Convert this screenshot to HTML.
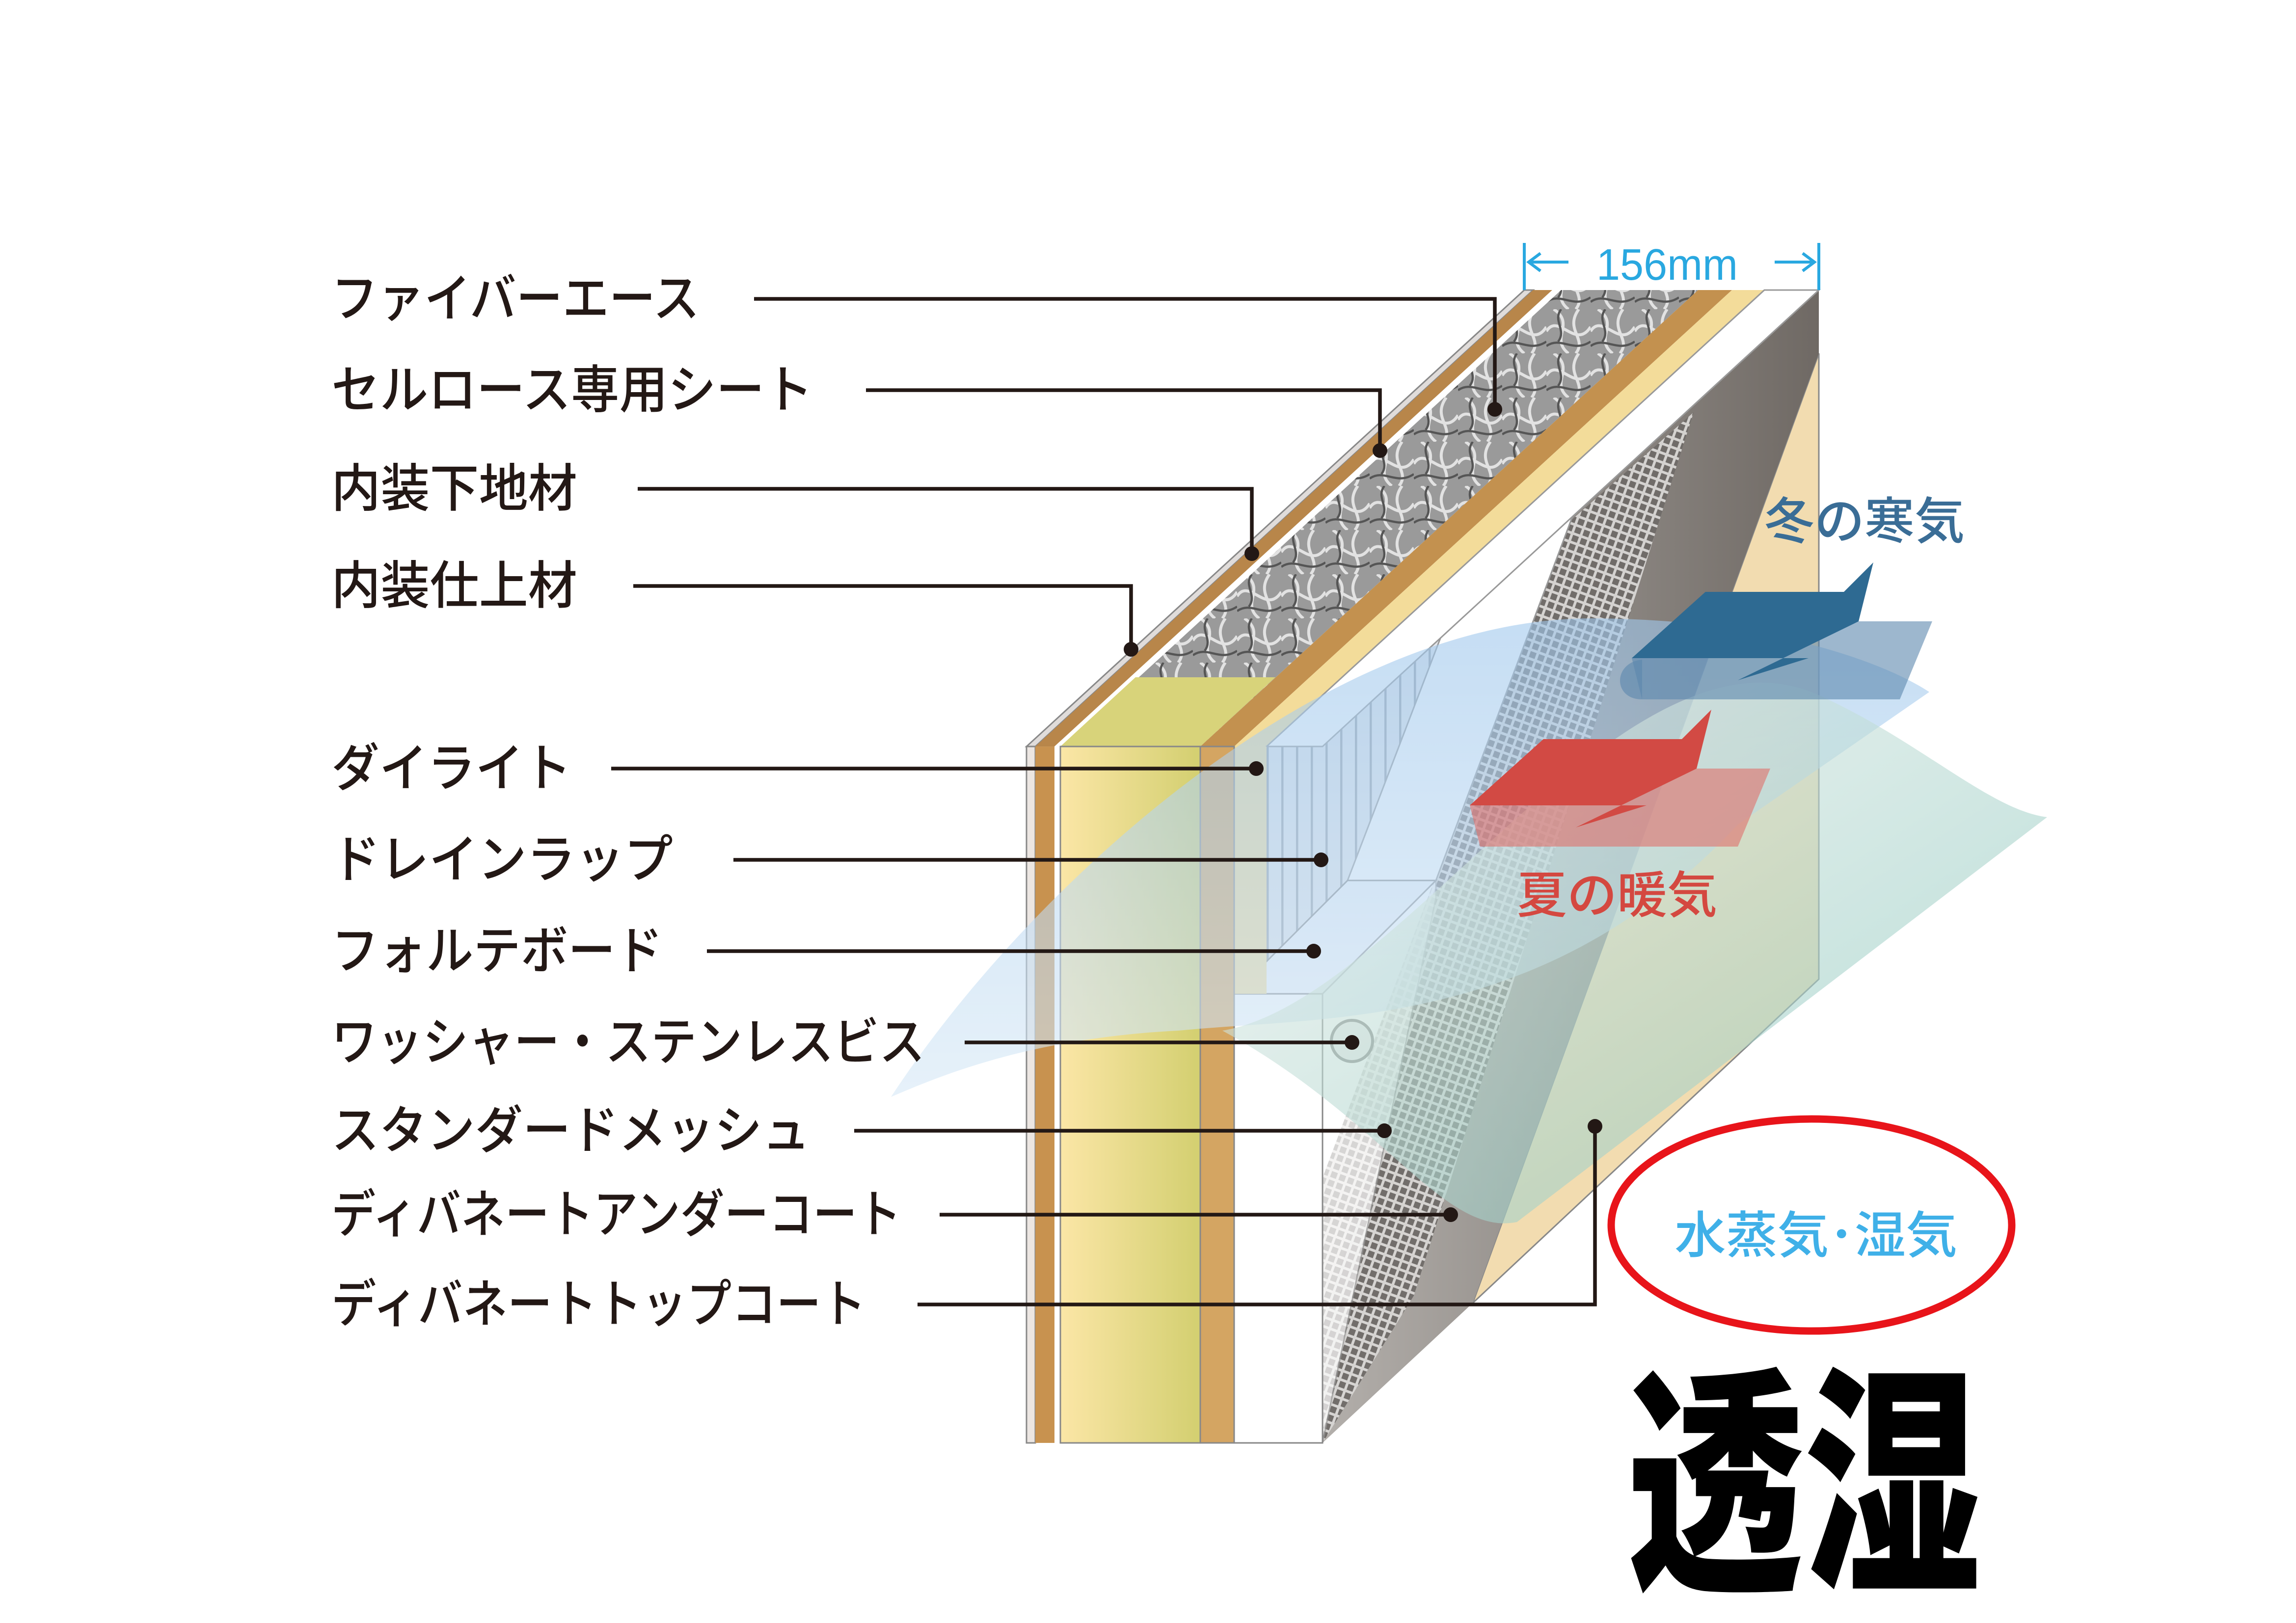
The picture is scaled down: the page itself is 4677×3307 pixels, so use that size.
<!DOCTYPE html>
<html><head><meta charset="utf-8">
<style>html,body{margin:0;padding:0;background:#fff}svg{display:block}</style></head>
<body>
<svg width="4677" height="3307" viewBox="0 0 1559 1102.3" xmlns="http://www.w3.org/2000/svg">
<defs>
<pattern id="mesh" width="6" height="6" patternUnits="userSpaceOnUse" patternTransform="rotate(20)">
<rect width="6" height="6" fill="#d8d6d4"/><rect width="4.2" height="4.2" fill="#6f6b68"/></pattern>
<pattern id="rib" width="10" height="10" patternUnits="userSpaceOnUse">
<rect width="10" height="10" fill="#e4e6ea"/><rect width="1.5" height="10" fill="#9aa0a8"/></pattern>
<pattern id="fiber" width="30" height="30" patternUnits="userSpaceOnUse">
<rect width="30" height="30" fill="#9a9a9a"/>
<path d="M0,15 C8,2 20,28 30,12 M5,0 C20,10 2,20 15,30 M22,0 C12,14 28,20 20,30" stroke="#e2e2e2" stroke-width="2" fill="none"/>
<path d="M0,25 C10,18 18,30 30,22 M10,0 C4,8 14,14 8,22" stroke="#555" stroke-width="1.5" fill="none"/></pattern>
<linearGradient id="stud" x1="0" x2="1"><stop offset="0" stop-color="#fbe6a6"/><stop offset="1" stop-color="#d3cf70"/></linearGradient>
<linearGradient id="gray" x1="0" x2="1"><stop offset="0" stop-color="#b3afab"/><stop offset="1" stop-color="#6f6964"/></linearGradient>
<linearGradient id="bl" x1="0" y1="0" x2="0" y2="1"><stop offset="0" stop-color="#9fc7ec"/><stop offset="1" stop-color="#d6e8f6"/></linearGradient>
<linearGradient id="gr" x1="0" y1="0" x2="1" y2="1"><stop offset="0" stop-color="#f2f2ee"/><stop offset="1" stop-color="#7fc2b8"/></linearGradient>
</defs>

<polygon points="1235,240 1235,665 1000,885" fill="#f2dcb0" stroke="#888" stroke-width="1"/>
<polygon points="1060,355 1235,197 1235,240 1000,885 898,980 898,900" fill="url(#gray)"/>
<polygon points="898,980 898,800 1065,355 1150,280 960,880" fill="url(#mesh)" opacity="0.95"/>
<polygon points="838,660 838,520 1010,350 930,590 840,675" fill="url(#rib)" stroke="#999"/>
<polygon points="1010,350 1068,350 975,598 915,598" fill="#fff" stroke="#999"/>
<polygon points="838,675 898,675 975,598 915,598" fill="#f4f6fa" stroke="#888"/>
<polygon points="898,675 975,598 975,610 898,980" fill="#fff" stroke="#999" opacity="0.7"/>
<rect x="838" y="675" width="60" height="305" fill="#fff" stroke="#888"/>
<circle cx="918" cy="707" r="14" fill="#eee" stroke="#888" stroke-width="2"/>

<polygon points="697,507 1035,197 1041,197 703,507" fill="#e0dcda" stroke="#888" stroke-width="1"/>
<polygon points="703,507 1041,197 1054,197 716,507" fill="#b8864a"/>
<polygon points="716,507 1054,197 1060,197 722,507" fill="#fff"/>
<polygon points="722,507 1060,197 1153,197 815,507" fill="url(#fiber)"/>
<polygon points="815,507 1153,197 1176,197 838,507" fill="#c3914f"/>
<polygon points="838,507 1176,197 1198,197 860,507" fill="#f3dc9a"/>
<polygon points="860,507 1198,197 1235,197 898,507" fill="#fff" stroke="#999" stroke-width="1"/>
<polygon points="720,507 815,507 866,460 771,460" fill="#d8d37a"/>
<polygon points="838,507 860,507 860,675 838,675" fill="#f3dc9a"/>

<rect x="697" y="507" width="6" height="473" fill="#ece6e2" stroke="#888" stroke-width="1"/>
<rect x="703" y="507" width="13" height="473" fill="#c8924f"/>
<rect x="716" y="507" width="4" height="473" fill="#fff"/>
<rect x="720" y="507" width="95" height="473" fill="url(#stud)" stroke="#888" stroke-width="1"/>
<rect x="815" y="507" width="23" height="473" fill="#d4a562" stroke="#888" stroke-width="1"/>

<path d="M605,745 C700,600 900,420 1080,420 C1200,420 1280,450 1310,470 L1180,560 C1050,700 900,690 800,700 C700,705 640,730 605,745 Z" fill="url(#bl)" opacity="0.6"/>
<path d="M830,700 C950,680 1100,420 1230,470 C1300,500 1350,550 1390,555 L1030,830 C980,840 940,760 830,700 Z" fill="url(#gr)" opacity="0.6"/>

<polygon points="1115,475 1290,475 1312,422 1240,422 1180,462 1228,447 1108,447" fill="#5b87ad" opacity="0.6"/>
<path d="M1115,448 C1095,450 1095,475 1115,475" fill="#5b87ad" opacity="0.6"/>
<polygon points="1108,447 1158,402 1252,402 1272,382 1262,422 1180,462 1228,447" fill="#2e6a92"/>
<polygon points="1005,575 1180,575 1202,522 1130,522 1070,562 1118,547 998,547" fill="#e0706a" opacity="0.6"/>
<polygon points="998,547 1048,502 1142,502 1162,482 1152,522 1070,562 1118,547" fill="#d24a44"/>

<g stroke="#29a8e0" stroke-width="2" fill="none">
<line x1="1035" y1="165" x2="1035" y2="197"/><line x1="1235" y1="165" x2="1235" y2="197"/>
<line x1="1038" y1="178" x2="1065" y2="178"/><line x1="1205" y1="178" x2="1232" y2="178"/>
<path d="M1046,172 L1038,178 L1046,184 M1224,172 L1232,178 L1224,184"/></g>
<text x="1084" y="190" font-family="Liberation Sans, sans-serif" font-size="30" fill="#29a8e0" textLength="96" lengthAdjust="spacingAndGlyphs">156mm</text>

<g stroke="#231815" stroke-width="2.5" fill="none">
<polyline points="512,203 1015,203 1015,278"/>
<polyline points="588,265 937,265 937,306"/>
<polyline points="433,332 850,332 850,376"/>
<polyline points="430,398 768,398 768,441"/>
<line x1="415" y1="522" x2="853" y2="522"/>
<line x1="498" y1="584" x2="897" y2="584"/>
<line x1="480" y1="646" x2="892" y2="646"/>
<line x1="655" y1="708" x2="918" y2="708"/>
<line x1="580" y1="768" x2="940" y2="768"/>
<line x1="638" y1="825" x2="985" y2="825"/>
<polyline points="623,886 1083,886 1083,765"/>
</g>
<g fill="#231815">
<circle cx="1015" cy="278" r="5"/><circle cx="937" cy="306" r="5"/><circle cx="850" cy="376" r="5"/><circle cx="768" cy="441" r="5"/>
<circle cx="853" cy="522" r="5"/><circle cx="897" cy="584" r="5"/><circle cx="892" cy="646" r="5"/><circle cx="918" cy="708" r="5"/>
<circle cx="940" cy="768" r="5"/><circle cx="985" cy="825" r="5"/><circle cx="1083" cy="765" r="5"/>
</g>

<g font-family="Liberation Sans, Noto Sans CJK JP, sans-serif" font-size="35" font-weight="500" fill="#231815">
<text x="225" y="215" textLength="250" lengthAdjust="spacingAndGlyphs">ファイバーエース</text>
<text x="225" y="277" textLength="327" lengthAdjust="spacingAndGlyphs">セルロース専用シート</text>
<text x="225" y="344" textLength="167" lengthAdjust="spacingAndGlyphs">内装下地材</text>
<text x="225" y="410" textLength="167" lengthAdjust="spacingAndGlyphs">内装仕上材</text>
<text x="225" y="534" textLength="163" lengthAdjust="spacingAndGlyphs">ダイライト</text>
<text x="225" y="596" textLength="232" lengthAdjust="spacingAndGlyphs">ドレインラップ</text>
<text x="225" y="658" textLength="225" lengthAdjust="spacingAndGlyphs">フォルテボード</text>
<text x="225" y="720" textLength="403" lengthAdjust="spacingAndGlyphs">ワッシャー・ステンレスビス</text>
<text x="225" y="780" textLength="325" lengthAdjust="spacingAndGlyphs">スタンダードメッシュ</text>
<text x="225" y="837" textLength="387" lengthAdjust="spacingAndGlyphs">ディバネートアンダーコート</text>
<text x="225" y="898" textLength="363" lengthAdjust="spacingAndGlyphs">ディバネートトップコート</text>
</g>
<g font-family="Liberation Sans, Noto Sans CJK JP, sans-serif" font-size="34" font-weight="500">
<text x="1198" y="366" fill="#3a6d96" textLength="136" lengthAdjust="spacingAndGlyphs">冬の寒気</text>
<text x="1030" y="620" fill="#d44840" textLength="136" lengthAdjust="spacingAndGlyphs">夏の暖気</text>
<text x="1137" y="851" fill="#3fb0e8" textLength="192" lengthAdjust="spacingAndGlyphs">水蒸気･湿気</text>
</g>
<ellipse cx="1230" cy="832" rx="136" ry="72" fill="none" stroke="#e8141a" stroke-width="5"/>
<text x="0" y="0" transform="translate(1105,1068) scale(1,1.38)" font-family="Noto Sans CJK JP, sans-serif" font-weight="900" font-size="120" fill="#000" textLength="240" lengthAdjust="spacingAndGlyphs">透湿</text>
</svg>
</body></html>
